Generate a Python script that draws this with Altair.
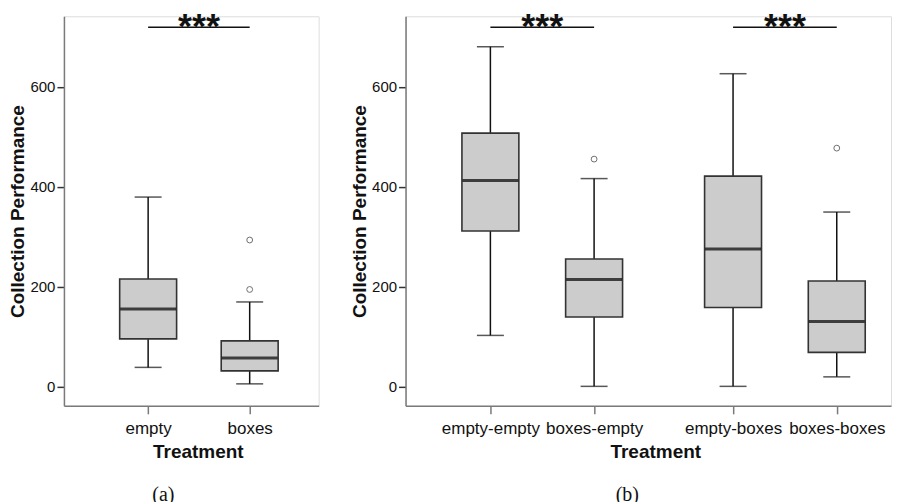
import altair as alt
import pandas as pd

# ---------------- data ----------------
left_cats = ["empty", "boxes"]
left_lo = [38, 5]
left_q1 = [95, 31]
left_med = [155, 57]
left_q3 = [215, 91]
left_hi = [379, 169]
left_out_cat = ["boxes", "boxes"]
left_out_val = [194, 293]

right_cats = ["empty-empty", "boxes-empty", "empty-boxes", "boxes-boxes"]
right_lo = [102, 0, 0, 19]
right_q1 = [311, 139, 158, 68]
right_med = [412, 214, 275, 130]
right_q3 = [507, 255, 421, 211]
right_hi = [680, 416, 626, 349]
right_out_cat = ["boxes-empty", "boxes-boxes"]
right_out_val = [455, 477]

left_sig = [("empty", "boxes", "***")]
right_sig = [("empty-empty", "boxes-empty", "***"), ("empty-boxes", "boxes-boxes", "***")]

y_ticks = [0, 200, 400, 600]
sig_line_y = 719
sig_text_y = 697

# ---------------- layout helpers ----------------
GROUP_GAP = 0.34
Y_DOMAIN = [-39, 741]
H = 390
FONT = "Liberation Sans"


def positions(cats, group_size):
    return {c: i + 1 + (i // group_size) * GROUP_GAP for i, c in enumerate(cats)}


def panel(cats, lo, q1, med, q3, hi, out_cat, out_val, sigs, group_size,
          width, xdom, caption, cap_dx, title_x):
    pos = positions(cats, group_size)
    df = pd.DataFrame({"cat": cats, "lo": lo, "q1": q1, "med": med, "q3": q3, "hi": hi})
    df["pos"] = df["cat"].map(pos)
    dout = pd.DataFrame({"cat": out_cat, "val": out_val})
    dout["pos"] = dout["cat"].map(pos)
    dsig = pd.DataFrame({"a": [s[0] for s in sigs], "b": [s[1] for s in sigs],
                         "txt": [s[2] for s in sigs]})
    dsig["xa"] = dsig["a"].map(pos)
    dsig["xb"] = dsig["b"].map(pos)
    dsig["xm"] = (dsig["xa"] + dsig["xb"]) / 2
    dsig["y"] = sig_line_y
    dsig["ty"] = sig_text_y

    label_expr = " : ".join(
        [f"datum.value == {pos[c]} ? '{c}'" for c in cats]) + " : ''"

    xscale = alt.Scale(domain=xdom, nice=False, zero=False)
    yscale = alt.Scale(domain=Y_DOMAIN, nice=False, zero=False)

    xaxis = alt.Axis(values=[pos[c] for c in cats], labelExpr=label_expr,
                     title="Treatment", grid=False, tickSize=8, tickColor="#7a7a7a",
                     domainColor="#7a7a7a", domainWidth=1.5, tickWidth=1.5,
                     labelFontSize=17, labelPadding=7, labelColor="#111111",
                     labelFont=FONT, titleFont=FONT, titleFontSize=19,
                     titleFontWeight="bold", titleColor="#111111", titlePadding=6,
                     titleX=title_x)
    yaxis = alt.Axis(values=y_ticks, title="Collection Performance", grid=False,
                     tickSize=7, tickColor="#333333", tickWidth=1.5,
                     domainColor="#7a7a7a", domainWidth=1.5,
                     labelFontSize=15, labelPadding=2, labelColor="#111111",
                     labelFont=FONT, titleFont=FONT, titleFontSize=19,
                     titleFontWeight="bold", titleColor="#111111", titlePadding=2)

    base = alt.Chart(df)
    x = alt.X("pos:Q", scale=xscale, axis=xaxis)
    whisk_up = base.mark_rule(color="#111111", strokeWidth=1.5).encode(
        x=x, y=alt.Y("q3:Q", scale=yscale, axis=yaxis), y2="hi:Q")
    whisk_lo = base.mark_rule(color="#111111", strokeWidth=1.5).encode(
        x="pos:Q", y="lo:Q", y2="q1:Q")
    caps_hi = base.mark_tick(orient="horizontal", size=27, thickness=1.5,
                             color="#111111").encode(x="pos:Q", y="hi:Q")
    caps_lo = base.mark_tick(orient="horizontal", size=27, thickness=1.5,
                             color="#111111").encode(x="pos:Q", y="lo:Q")
    box = base.mark_bar(size=57, color="#cccccc", stroke="#333333",
                        strokeWidth=1.6).encode(x="pos:Q", y="q1:Q", y2="q3:Q")
    median = base.mark_tick(orient="horizontal", size=56, thickness=3,
                            color="#000000").encode(x="pos:Q", y="med:Q")
    outl = alt.Chart(dout).mark_point(shape="circle", size=34, filled=False,
                                      color="#333333", strokeWidth=1).encode(
        x="pos:Q", y="val:Q")
    sline = alt.Chart(dsig).mark_rule(color="#111111", strokeWidth=1.5).encode(
        x="xa:Q", x2="xb:Q", y="y:Q")
    stext = alt.Chart(dsig).mark_text(font=FONT, fontSize=36, fontWeight="bold",
                                      baseline="alphabetic", align="center",
                                      color="#111111").encode(
        x="xm:Q", y="ty:Q", text="txt:N")

    return alt.layer(whisk_up, whisk_lo, caps_hi, caps_lo, box, median, outl,
                     sline, stext).properties(
        width=width, height=H,
        title=alt.TitleParams(caption, orient="bottom", font="Liberation Serif",
                              fontSize=20, fontWeight="normal", anchor="middle",
                              dx=cap_dx, offset=23, color="#111111"))


left = panel(left_cats, left_lo, left_q1, left_med, left_q3, left_hi,
             left_out_cat, left_out_val, left_sig, 2, 255, [0.22, 2.63],
             "(a)", -28, 134)
right = panel(right_cats, right_lo, right_q1, right_med, right_q3, right_hi,
              right_out_cat, right_out_val, right_sig, 2, 486,
              [0.23, 0.23 + 486 / 106], "(b)", -21, 250)

chart = alt.hconcat(left, right, spacing=87, bounds="flush").properties(
    padding={"left": 0, "top": 0, "right": 0, "bottom": 0}
).configure_view(strokeWidth=0).configure(background="white")

chart.save("out.html", embed_options={"renderer": "svg", "actions": False})
